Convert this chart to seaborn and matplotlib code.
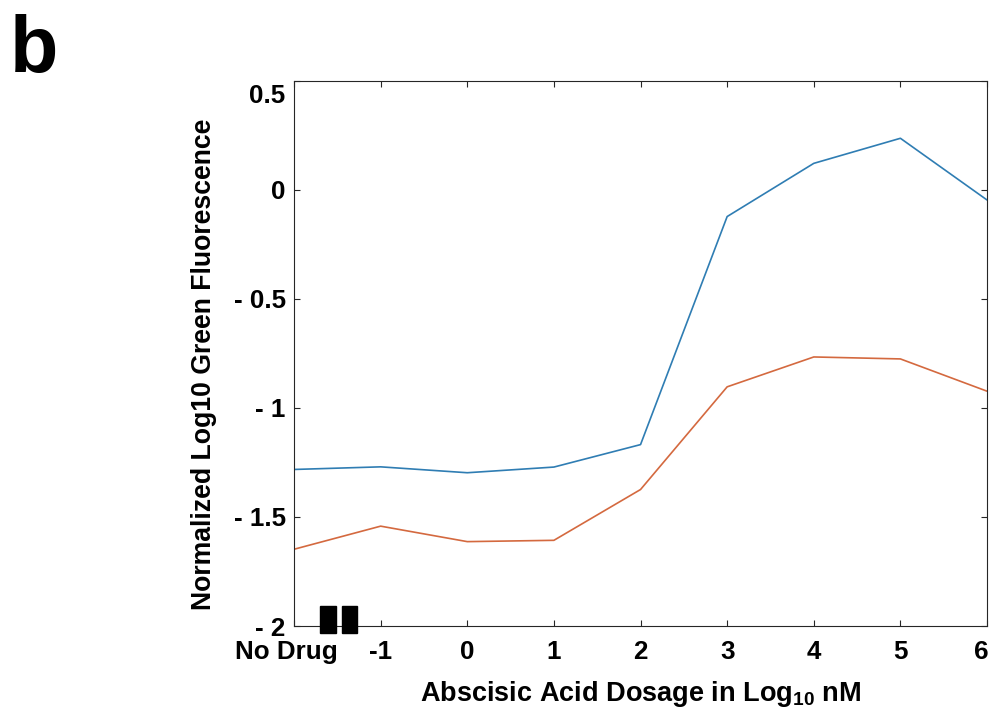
import numpy as np
import pandas as pd
import matplotlib
matplotlib.use("Agg")
import matplotlib.pyplot as plt
from matplotlib.patches import Rectangle
from matplotlib.transforms import ScaledTranslation
import seaborn as sns

# Dose positions (log10 nM); "No Drug" is placed at -2
dose = [-2, -1, 0, 1, 2, 3, 4, 5, 6]
dose_labels = ["No Drug", "-1", "0", "1", "2", "3", "4", "5", "6"]

# Normalized log10 green fluorescence for the two reporter series
series_a = [-1.282, -1.270, -1.297, -1.271, -1.168, -0.122, 0.122, 0.237, -0.046]
series_b = [-1.648, -1.542, -1.613, -1.607, -1.374, -0.903, -0.766, -0.775, -0.923]

y_ticks = [-2, -1.5, -1, -0.5, 0, 0.5]
y_tick_labels = ["- 2", "- 1.5", "- 1", "- 0.5", "0", "0.5"]

sns.set_theme(style="white")
plt.rcParams["font.family"] = ["Liberation Sans", "DejaVu Sans"]
plt.rcParams["font.weight"] = "bold"
plt.rcParams["mathtext.fontset"] = "custom"
plt.rcParams["mathtext.rm"] = "Liberation Sans:bold"
plt.rcParams["mathtext.bf"] = "Liberation Sans:bold"
plt.rcParams["mathtext.it"] = "Liberation Sans:bold"

df = pd.DataFrame({
    "dose": dose * 2,
    "value": series_a + series_b,
    "series": ["a"] * len(dose) + ["b"] * len(dose),
})

fig = plt.figure(figsize=(9.9, 7.1), dpi=100)
ax = fig.add_axes([0.297, 0.1183, 0.7, 0.7677])

sns.lineplot(data=df, x="dose", y="value", hue="series",
             palette={"a": "#2f7db3", "b": "#d4693f"},
             linewidth=1.2, legend=False, ax=ax)

ax.set_xlim(-2, 6)
ax.set_ylim(-2, 0.5)
ax.set_xticks(dose)
ax.set_xticklabels(dose_labels)
ax.set_yticks(y_ticks)
ax.set_yticklabels(y_tick_labels)

ax.tick_params(axis="both", which="major", direction="in", length=4.5, width=0.8,
               color="#262626", labelsize=18.7, top=True, right=True,
               bottom=True, left=True)
ax.tick_params(axis="x", pad=10)
ax.tick_params(axis="y", pad=6)
for lab in ax.get_xticklabels() + ax.get_yticklabels():
    lab.set_fontweight("bold")
    lab.set_color("black")

# nudge the end x labels and the top y label
xl = ax.get_xticklabels()[0]
xl.set_transform(xl.get_transform() + ScaledTranslation(-8 / 100, 0, fig.dpi_scale_trans))
xr = ax.get_xticklabels()[-1]
xr.set_transform(xr.get_transform() + ScaledTranslation(-6 / 100, 0, fig.dpi_scale_trans))
yl = ax.get_yticklabels()[-1]
yl.set_transform(yl.get_transform() + ScaledTranslation(0, -13 / 100, fig.dpi_scale_trans))

for sp in ax.spines.values():
    sp.set_color("#262626")
    sp.set_linewidth(0.8)

# axis break marks between "No Drug" and -1
break_x = [(-1.701, -1.517), (-1.448, -1.270)]
for x0, x1 in break_x:
    ax.add_patch(Rectangle((x0, -2.033), x1 - x0, 0.124, facecolor="black",
                           edgecolor="black", clip_on=False, zorder=5))

ax.set_xlabel(r"Abscisic Acid Dosage in Log$_{10}$ nM", fontsize=19.5,
              fontweight="bold", color="black")
ax.set_ylabel("Normalized Log10 Green Fluorescence", fontsize=19.2,
              fontweight="bold", color="black")
ax.yaxis.set_label_coords(-0.111, 0.48)
ax.xaxis.set_label_coords(0.5, -0.097)

fig.text(0.010, 1 - 72 / 710, "b", fontsize=57, fontweight="bold",
         color="black", ha="left", va="baseline")

fig.savefig("out.png", dpi=100, facecolor="white")
